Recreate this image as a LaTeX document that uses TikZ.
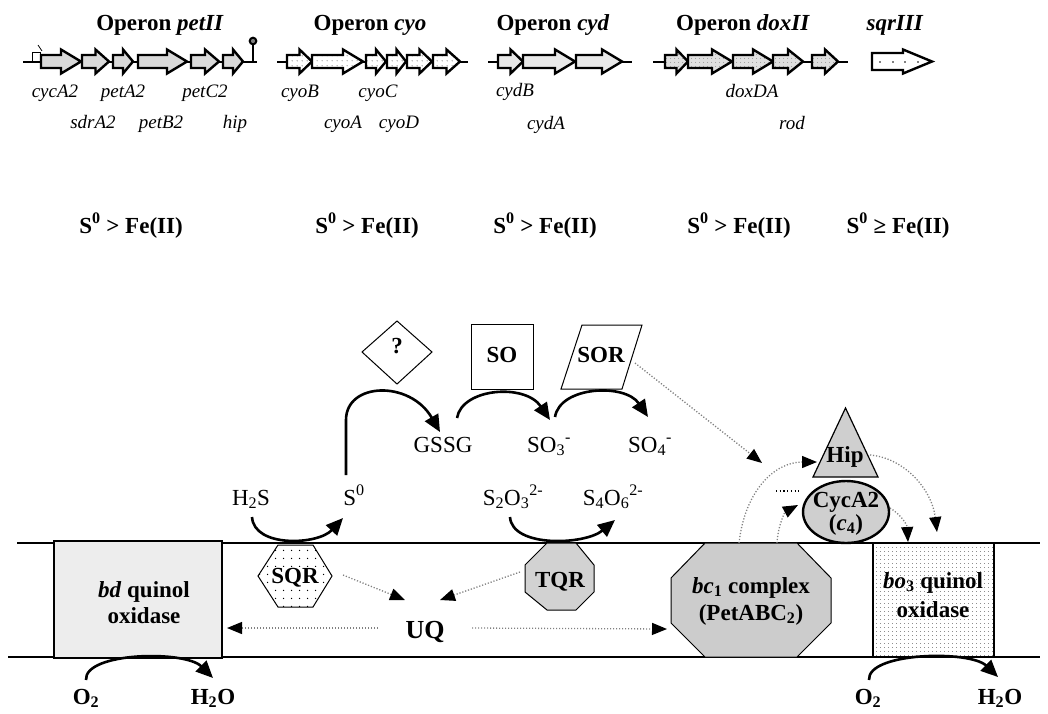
\documentclass[tikz,border=0pt]{standalone}
\usepackage{fontspec}
\setmainfont{Liberation Serif}
\usetikzlibrary{arrows.meta,patterns.meta}

\tikzdeclarepattern{name=dotsA,type=uncolored,bounding box={(0,0) and (5pt,5pt)},tile size={(5pt,5pt)},code={\fill (2.5pt,2.5pt) circle (0.6pt);}}
\tikzdeclarepattern{name=dotsB,type=uncolored,bounding box={(0,0) and (8pt,8pt)},tile size={(8pt,8pt)},code={\fill (4pt,4pt) circle (0.8pt);}}
\tikzdeclarepattern{name=dotsC,type=uncolored,bounding box={(0,0) and (3.5pt,3.5pt)},tile size={(3.5pt,3.5pt)},code={\fill (1.75pt,1.75pt) circle (0.5pt);}}

\newcommand\genearr[3]{%
  \pgfmathsetmacro\hh{min(20,0.5*(#2-#1))}%
  \draw[gene,#3] (#1,55) -- ({#2-\hh},55) -- ({#2-\hh},49.5) -- (#2,61.5) -- ({#2-\hh},73.5) -- ({#2-\hh},68) -- (#1,68) -- cycle;}

\tikzset{
  T/.style={font=\fontsize{23}{27}\selectfont, inner sep=0pt, anchor=base},
  B/.style={font=\fontsize{23}{27}\selectfont\bfseries, inner sep=0pt, anchor=base},
  G/.style={font=\fontsize{19}{22}\selectfont\itshape, inner sep=0pt, anchor=base},
  gene/.style={line width=2.4pt, line join=miter},
  backbone/.style={line width=2pt},
  rxn/.style={line width=2.6pt, -{Triangle[length=17pt,width=15pt]}},
  dotarrow/.style={gray, line width=1.3pt, dash pattern=on 1.2pt off 1.8pt, -{Triangle[length=15pt,width=12pt,black]}},
  thinshape/.style={line width=1pt},
  membrane/.style={line width=1.6pt},
}

\begin{document}
\begin{tikzpicture}[x=1pt,y=-1pt]
\useasboundingbox (0,0) rectangle (1048,713);

% ---------- operon titles ----------
\node[B] (t1) at (160,30) {Operon \textit{petII}};
\node[B] (t2) at (370,30) {Operon \textit{cyo}};
\node[B] (t3) at (553,30) {Operon \textit{cyd}};
\node[B] (t4) at (743,30) {Operon \textit{doxII}};
\node[B] (t5) at (895,30) {\textit{sqrIII}};

% ---------- backbones ----------
\draw[backbone] (23,62) -- (257,62);
\draw[backbone] (277,62) -- (468,62);
\draw[backbone] (488,62) -- (632,62);
\draw[backbone] (653,62) -- (848,62);

% promoter and terminator of petII
\draw[line width=0.9pt] (32,62) -- (32,52) -- (40,52) -- (40,62);
\draw[line width=0.8pt] (38,45) -- (42,51);
\draw[line width=2pt] (253,62) -- (253,45);
\draw[line width=2pt, fill=gray] (253,41) circle (3.3pt);

% ---------- genes ----------
\foreach \a/\b in {41/81, 82/109, 113/133, 138/187, 191/219, 223/243}
  {\genearr{\a}{\b}{fill=gray!30}}
\foreach \a/\b in {287/312, 312/363, 366/386, 387/406, 407/432, 433/460}
  {\genearr{\a}{\b}{preaction={fill=white}, pattern=dotsA, pattern color=black!70}}
\foreach \a/\b in {498/523, 523/575, 576/622}
  {\genearr{\a}{\b}{fill=gray!18}}
\foreach \a/\b in {665/688, 688/732, 733/773, 773/803, 812/838}
  {\genearr{\a}{\b}{preaction={fill=gray!25}, pattern=dotsC, pattern color=black!45}}
\draw[gene, fill=white] (872,53) -- (903,53) -- (903,49.5) -- (932,61.5) -- (903,73.5) -- (903,70) -- (872,70) -- cycle;
\foreach \x in {880,893,905,918} \fill (\x,62) circle (0.9pt);

% ---------- gene labels ----------
\node[G] (g1) at (55,97) {cycA2};
\node[G] (g2) at (123,97) {petA2};
\node[G] (g3) at (205,97) {petC2};
\node[G] (g4) at (93,128) {sdrA2};
\node[G] (g5) at (161,128) {petB2};
\node[G] (g6) at (235,128) {hip};
\node[G] (g7) at (300,97) {cyoB};
\node[G] (g8) at (378,97) {cyoC};
\node[G] (g9) at (343,128) {cyoA};
\node[G] (g10) at (399,128) {cyoD};
\node[G] (g11) at (515,96) {cydB};
\node[G] (g12) at (546,129) {cydA};
\node[G] (g13) at (752,97) {doxDA};
\node[G] (g14) at (792,129) {rod};

% ---------- S0 vs Fe(II) ----------
\node[B] (r1) at (131,233) {S\textsuperscript{0} > Fe(II)};
\node[B] (r2) at (367,233) {S\textsuperscript{0} > Fe(II)};
\node[B] (r3) at (545,233) {S\textsuperscript{0} > Fe(II)};
\node[B] (r4) at (739,233) {S\textsuperscript{0} > Fe(II)};
\node[B] (r5) at (898,233) {S\textsuperscript{0} ≥ Fe(II)};

% ---------- membrane ----------
\draw[membrane] (17,543) -- (1040,543);
\draw[membrane] (8,657) -- (1040,657);

% ---------- membrane proteins ----------
\draw[line width=1.5pt, fill=gray!14] (54,541) rectangle (222,658);
\node[B] (bd1) at (144,597) {\textit{bd} quinol};
\node[B] (bd2) at (144,623) {oxidase};

\draw[thinshape, preaction={fill=white}, pattern=dotsB, pattern color=black] (278,545) -- (313,545) -- (332,576) -- (313,607) -- (278,607) -- (258,576) -- cycle;
\node[B, fill=white, inner sep=0.5pt] (sqr) at (295,583) {SQR};

\draw[thinshape, fill=gray!35] (547,543) -- (576,543) -- (594,565) -- (594,592) -- (576,610) -- (547,610) -- (525,592) -- (525,565) -- cycle;
\node[B] (tqr) at (560,587) {TQR};

\draw[thinshape, fill=gray!40] (705,543) -- (797,543) -- (831,578) -- (831,623) -- (797,657) -- (705,657) -- (671,623) -- (671,578) -- cycle;
\node[B] (bc1) at (751,593) {\textit{bc}\textsubscript{1} complex};
\node[B] (bc2) at (751,620) {(PetABC\textsubscript{2})};

\draw[line width=1.5pt, preaction={fill=white}, pattern=dotsC, pattern color=black!60] (873,543) rectangle (994,657);
\node[B] (bo1) at (933,588) {\textit{bo}\textsubscript{3} quinol};
\node[B] (bo2) at (933,617) {oxidase};

\node[B, font=\fontsize{26}{30}\selectfont\bfseries] (uq) at (425,638) {UQ};

% ---------- periplasmic proteins ----------
\draw[thinshape] (397,321) -- (432,352) -- (397,384) -- (362,352) -- cycle;
\node[B] (q) at (397,353) {?};
\draw[thinshape] (471,324) rectangle (533,389);
\node[B] (so) at (502,362) {SO};
\draw[thinshape] (582,325) -- (642,325) -- (622,389) -- (561,389) -- cycle;
\node[B] (sor) at (601,362) {SOR};

\draw[line width=1.2pt, fill=gray!38] (813,477) -- (878,477) -- (845.5,408) -- cycle;
\node[B] (hip) at (845,462) {Hip};
\draw[line width=2.4pt, fill=gray!38] (846,512) ellipse [x radius=43pt, y radius=31pt];
\node[B] (cyc1) at (846,507) {CycA2};
\node[B] (cyc2) at (846,530) {(\textit{c}\textsubscript{4})};

% ---------- substrates ----------
\node[T] (h2s) at (251,505) {H\textsubscript{2}S};
\node[T] (s0) at (354,505) {S\textsuperscript{0}};
\node[T] (gssg) at (443,452) {GSSG};
\node[T] (so3) at (549,452) {SO\textsubscript{3}\textsuperscript{-}};
\node[T] (so4) at (650,452) {SO\textsubscript{4}\textsuperscript{-}};
\node[T] (s2o3) at (513,505) {S\textsubscript{2}O\textsubscript{3}\textsuperscript{2-}};
\node[T] (s4o6) at (613,505) {S\textsubscript{4}O\textsubscript{6}\textsuperscript{2-}};
\node[B] (o2a) at (86,704) {O\textsubscript{2}};
\node[B] (h2oa) at (213,704) {H\textsubscript{2}O};
\node[B] (o2b) at (868,704) {O\textsubscript{2}};
\node[B] (h2ob) at (1000,704) {H\textsubscript{2}O};

% ---------- reaction arcs ----------
\coordinate (c1s) at (252,517); \coordinate (c1e) at (343,518);
\draw[rxn] (c1s) .. controls (254,548) and (318,545) .. (c1e);
\coordinate (c2s) at (346,475); \coordinate (c2m) at (346,420); \coordinate (c2e) at (440,432);
\draw[rxn] (c2s) -- (c2m) .. controls (346,382) and (410,380) .. (c2e);
\coordinate (c3s) at (457,418); \coordinate (c3e) at (550,420);
\draw[rxn] (c3s) .. controls (462,388) and (525,383) .. (c3e);
\coordinate (c4s) at (555,417); \coordinate (c4e) at (648,417);
\draw[rxn] (c4s) .. controls (560,386) and (625,383) .. (c4e);
\coordinate (c5s) at (510,517); \coordinate (c5e) at (615,520);
\draw[rxn] (c5s) .. controls (512,548) and (585,545) .. (c5e);
\coordinate (c6s) at (86,680); \coordinate (c6e) at (213,678);
\draw[rxn] (c6s) .. controls (84,652) and (185,650) .. (c6e);
\coordinate (c7s) at (869,680); \coordinate (c7e) at (998,677);
\draw[rxn] (c7s) .. controls (867,652) and (970,650) .. (c7e);

% ---------- electron flow (dotted) ----------
\coordinate (d1s) at (343,575); \coordinate (d1e) at (405,600);
\draw[dotarrow] (d1s) -- (d1e);
\coordinate (d2s) at (520,572); \coordinate (d2e) at (440,600);
\draw[dotarrow] (d2s) -- (d2e);
\coordinate (d3s) at (378,628); \coordinate (d3e) at (227,628);
\draw[dotarrow] (d3s) -- (d3e);
\coordinate (d4s) at (472,628); \coordinate (d4e) at (667,629);
\draw[dotarrow] (d4s) -- (d4e);
\coordinate (d5s) at (635,363); \coordinate (d5e) at (762,463);
\draw[dotarrow] (d5s) -- (d5e);
\coordinate (d6s) at (739,543); \coordinate (d6e) at (817,462);
\draw[dotarrow] (d6s) .. controls (745,490) and (775,462) .. (d6e);
\coordinate (d7s) at (777,543); \coordinate (d7e) at (798,505);
\draw[dotarrow] (d7s) .. controls (778,525) and (785,512) .. (d7e);
\coordinate (d8s) at (890,508); \coordinate (d8e) at (908,542);
\draw[dotarrow] (d8s) .. controls (900,514) and (907,524) .. (d8e);
\coordinate (d9s) at (870,455); \coordinate (d9e) at (937,532);
\draw[dotarrow] (d9s) .. controls (905,458) and (932,490) .. (d9e);
\coordinate (d10s) at (776,491); \coordinate (d10e) at (801,491);
\draw[line width=1.2pt, dash pattern=on 1.2pt off 2.5pt] (d10s) -- (d10e);
\end{tikzpicture}
\end{document}
